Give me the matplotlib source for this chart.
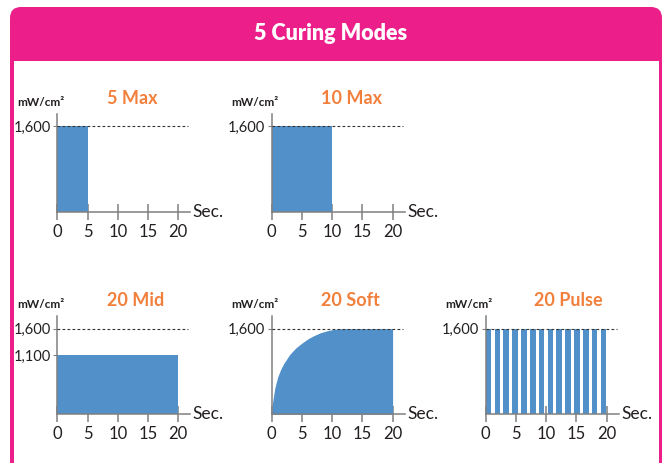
import matplotlib
matplotlib.use("Agg")
import matplotlib.pyplot as plt
from matplotlib.patches import FancyBboxPatch, Rectangle

# ---------------- data ----------------
title_text = "5 Curing Modes"
mode_names = ["5 Max", "10 Max", "20 Mid", "20 Soft", "20 Pulse"]
unit_label = "mW/cm²"
x_ticks = [0, 5, 10, 15, 20]
max_level = 1600

max5_duration = 5
max5_level = 1600
max10_duration = 10
max10_level = 1600
mid_duration = 20
mid_level = 1100

soft_t = [0, 0.1, 0.25, 0.5, 1, 1.5, 2, 3, 4, 5, 6, 7, 8, 9, 10, 11, 12, 16, 20]
soft_v = [0, 180, 300, 480, 700, 840, 950, 1120, 1240, 1330, 1410, 1470, 1520, 1555, 1580, 1597, 1600, 1600, 1600]

pulse_starts = [0.0, 1.46, 2.92, 4.38, 5.85, 7.31, 8.77, 10.23, 11.69, 13.15, 14.62, 16.08, 17.54, 19.0]
pulse_width = 0.95
pulse_level = 1600

# ---------------- style ----------------
W, H = 664, 463
PINK = "#EC1E8A"
BLUE = "#5190C9"
ORANGE = "#F2803D"
GRAY = "#808080"
DARK = "#231F20"
FONT = ["Lato", "DejaVu Sans"]
plt.rcParams["font.family"] = FONT

fig = plt.figure(figsize=(W / 100, H / 100), dpi=100)

# background frame
bg = fig.add_axes([0, 0, 1, 1])
bg.set_xlim(0, W)
bg.set_ylim(H, 0)
bg.axis("off")
bg.add_patch(FancyBboxPatch((10, 7), 652, 520, boxstyle="round,pad=0,rounding_size=11",
                            fc=PINK, ec="none"))
bg.add_patch(Rectangle((14, 61), 645, 470, fc="white", ec="none"))
bg.text(331, 33, title_text, color="white", fontsize=15.5, fontweight="heavy",
        ha="center", va="center")

axis_w, axis_h = 133, 98
# (origin x px, baseline y px, title x frac)
layout = [(57.3, 211.7, 0.56), (271.7, 211.7, 0.60),
          (57.3, 414.3, 0.59), (271.7, 414.3, 0.59), (485.7, 414.3, 0.62)]


def make_axes(i, yticks, ylabels):
    ox, base, tx = layout[i]
    ax = fig.add_axes([ox / W, (H - base) / H, axis_w / W, axis_h / H])
    ax.set_xlim(0, 22)
    ax.set_ylim(0, 1830)
    for s in ["top", "right"]:
        ax.spines[s].set_visible(False)
    for s in ["left", "bottom"]:
        ax.spines[s].set_color(GRAY)
        ax.spines[s].set_linewidth(1.1)
    ax.set_xticks(x_ticks)
    ax.set_xticklabels([str(t) for t in x_ticks])
    ax.tick_params(axis="x", direction="inout", length=12, width=1.1, color=GRAY,
                   labelsize=12, labelcolor=DARK, pad=2.5)
    ax.set_yticks(yticks)
    ax.set_yticklabels(ylabels)
    ax.tick_params(axis="y", direction="out", length=3, width=0.8, color=GRAY,
                   labelsize=10.5, labelcolor=DARK, pad=1.5)
    ax.axhline(max_level, xmin=0, xmax=0.985, color="#333333", lw=0.8,
               ls=(0, (2.5, 2)), zorder=3)
    ax.text(22.4, 0, "Sec.", fontsize=12.5, color=DARK, va="center", ha="left",
            clip_on=False)
    ax.text(-0.125, 1.115 if base < 300 else 1.125, unit_label, transform=ax.transAxes,
            fontsize=8.5, fontweight="bold", color=DARK, ha="center", va="center")
    ax.text(tx, 1.16, mode_names[i], transform=ax.transAxes, fontsize=13,
            fontweight="bold", color=ORANGE, ha="center", va="center")
    ax.set_facecolor("none")
    return ax


ax1 = make_axes(0, [max_level], ["1,600"])
ax1.bar(0, max5_level, width=max5_duration, align="edge", color=BLUE, zorder=2)

ax2 = make_axes(1, [max_level], ["1,600"])
ax2.bar(0, max10_level, width=max10_duration, align="edge", color=BLUE, zorder=2)

ax3 = make_axes(2, [mid_level, max_level], ["1,100", "1,600"])
ax3.bar(0, mid_level, width=mid_duration, align="edge", color=BLUE, zorder=2)

ax4 = make_axes(3, [max_level], ["1,600"])
ax4.fill_between(soft_t, 0, soft_v, color=BLUE, lw=0, zorder=2)

ax5 = make_axes(4, [max_level], ["1,600"])
ax5.bar(pulse_starts, [pulse_level] * len(pulse_starts), width=pulse_width,
        align="edge", color=BLUE, zorder=2)

fig.savefig("out.png", dpi=100)
